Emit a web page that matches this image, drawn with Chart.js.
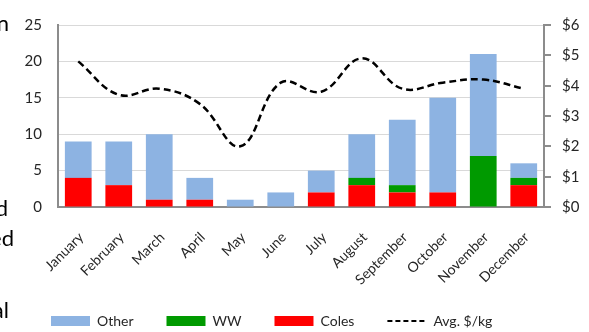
<!DOCTYPE html>
<html>
<head>
<meta charset="utf-8">
<script src="https://cdn.jsdelivr.net/npm/chart.js@4/dist/chart.umd.min.js"></script>
<style>
  html, body { margin: 0; padding: 0; background: #fff; }
  #wrap { position: relative; width: 589px; height: 332px; overflow: hidden; }
  #chart { position: absolute; left: 0; top: 0; }
  .side { position: absolute; font-family: Lato, "Open Sans", sans-serif; font-size: 22px; color: #000; line-height: 1; white-space: nowrap; }
</style>
</head>
<body>
<div id="wrap">
  <canvas id="chart" width="589" height="332"></canvas>
  <div class="side" style="right:580px;top:12px;">n</div>
  <div class="side" style="right:581px;top:197px;">d</div>
  <div class="side" style="right:575px;top:227px;">ed</div>
  <div class="side" style="right:580px;top:299px;">al</div>
</div>
<script>
// Monthly counts by store, plus average price per kg
const months = ['January', 'February', 'March', 'April', 'May', 'June', 'July',
                'August', 'September', 'October', 'November', 'December'];
const coles = [4, 3, 1, 1, 0, 0, 2, 3, 2, 2, 0, 3];
const ww    = [0, 0, 0, 0, 0, 0, 0, 1, 1, 0, 7, 1];
const other = [5, 6, 9, 3, 1, 2, 3, 6, 9, 13, 14, 2];
const avgPricePerKg = [4.8, 3.7, 3.9, 3.4, 2.0, 4.1, 3.8, 4.9, 3.9, 4.1, 4.2, 3.9];
const countTicks = [0, 5, 10, 15, 20, 25];
const priceTicks = [0, 1, 2, 3, 4, 5, 6];

const AVG_LABEL = 'Avg. $/kg';
const AVG_DASH = [7, 4];

Chart.defaults.font.family = 'Lato, "Open Sans", sans-serif';
Chart.defaults.color = '#262626';

// Places the legend row near the bottom edge, starting at the left,
// and lets the month labels run down past the axis box without being clipped
const legendPlacement = {
  id: 'legendPlacement',
  afterLayout(chart) {
    const lg = chart.legend;
    if (lg) {
      const h = lg.bottom - lg.top;
      lg.left = 18;
      lg.top = 281;
      lg.bottom = lg.top + h;
    }
    if (chart.scales.x) chart.scales.x.bottom = chart.height;
  }
};

const baseLabels = Chart.defaults.plugins.legend.labels.generateLabels;

new Chart(document.getElementById('chart'), {
  type: 'bar',
  data: {
    labels: months,
    datasets: [
      { label: 'Other', data: other, backgroundColor: '#8db3e2', borderWidth: 0,
        pointStyle: 'rect', order: 3, yAxisID: 'y', barPercentage: 0.66, categoryPercentage: 1 },
      { label: 'WW', data: ww, backgroundColor: '#009a00', borderWidth: 0,
        pointStyle: 'rect', order: 2, yAxisID: 'y', barPercentage: 0.66, categoryPercentage: 1 },
      { label: 'Coles', data: coles, backgroundColor: '#ff0000', borderWidth: 0,
        pointStyle: 'rect', order: 1, yAxisID: 'y', barPercentage: 0.66, categoryPercentage: 1 },
      { type: 'line', label: AVG_LABEL, data: avgPricePerKg, yAxisID: 'y1', order: 0,
        borderColor: '#000', backgroundColor: '#000', borderWidth: 2.5, borderDash: AVG_DASH,
        tension: 0.4, pointRadius: 0, pointStyle: 'line', fill: false }
    ]
  },
  options: {
    responsive: false,
    animation: false,
    layout: { padding: { top: 12, left: 0, right: 0, bottom: 0 } },
    plugins: {
      tooltip: { enabled: false },
      legend: {
        position: 'bottom',
        align: 'start',
        reverse: true,
        labels: {
          usePointStyle: true,
          pointStyleWidth: 39,
          boxHeight: 10,
          padding: 33,
          color: '#262626',
          font: { size: 14 },
          generateLabels(chart) {
            return baseLabels(chart).map(item => {
              if (item.text === AVG_LABEL) {
                item.lineDash = [5, 3];
                item.lineWidth = 2;
                item.strokeStyle = '#000';
              }
              return item;
            });
          }
        }
      }
    },
    scales: {
      x: {
        stacked: true,
        offset: true,
        grid: { display: false, drawTicks: false },
        border: { display: true, color: '#8c8c8c', width: 2 },
        ticks: { minRotation: 45, maxRotation: 45, autoSkip: false, padding: 22, labelOffset: 3,
                 font: { size: 14 } },
        afterFit(scale) { scale.height = 68; }
      },
      y: {
        stacked: true,
        position: 'left',
        min: 0, max: 25,
        afterBuildTicks(scale) { scale.ticks = countTicks.map(v => ({ value: v })); },
        grid: { color: '#d9d9d9', lineWidth: 1, drawTicks: false },
        border: { display: true, color: '#8c8c8c', width: 2 },
        ticks: { padding: 16, font: { size: 15 } },
        afterFit(scale) { scale.width = 58; }
      },
      y1: {
        position: 'right',
        min: 0, max: 6,
        afterBuildTicks(scale) { scale.ticks = priceTicks.map(v => ({ value: v })); },
        grid: { drawOnChartArea: false, drawTicks: true, tickLength: 7, color: '#8c8c8c', lineWidth: 2 },
        border: { display: true, color: '#8c8c8c', width: 2 },
        ticks: { padding: 11, font: { size: 15 }, callback: v => '$' + v },
        afterFit(scale) { scale.width = 45; }
      }
    }
  },
  plugins: [legendPlacement]
});
</script>
</body>
</html>
